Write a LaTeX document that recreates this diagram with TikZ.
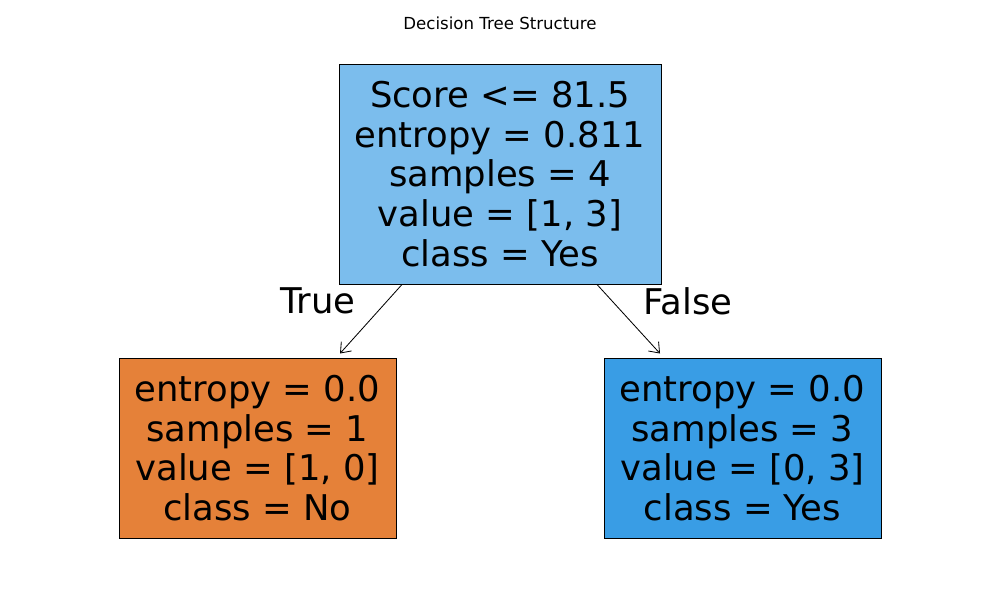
\documentclass[tikz,border=0pt]{standalone}
\usepackage{fontspec}
\setmainfont{DejaVu Sans}
\usepackage{tikz}
\usetikzlibrary{arrows.meta,calc}
\definecolor{myrootcolor}{HTML}{7BBDED}
\definecolor{myleftcolor}{HTML}{E58139}
\definecolor{myrightcolor}{HTML}{399DE5}

\begin{document}
\begin{tikzpicture}[x=0.254mm, y=0.254mm,
  treebox/.style={draw, rectangle, line width=0.7pt, align=center, inner sep=0pt, font=\fontsize{25.6pt}{28.6pt}\selectfont},
  edgelabel/.style={font=\fontsize{25.6pt}{28.6pt}\selectfont},
  treearrow/.style={-{Straight Barb[length=6.5pt, width=10pt]}, line width=0.6pt}]%
\useasboundingbox (0, 0) rectangle (1000, 600);%
\node (title) at (500, 577) {\fontsize{12pt}{14pt}\selectfont Decision Tree Structure};%
\node[treebox, fill=myrootcolor, minimum width=81.79mm, minimum height=55.88mm] (root) at (500, 426) {Score <= 81.5\\entropy = 0.811\\samples = 4\\value = [1, 3]\\class = Yes};%
\node[treebox, fill=myleftcolor, minimum width=70.36mm, minimum height=45.72mm] (left) at (257.5, 152) {entropy = 0.0\\samples = 1\\value = [1, 0]\\class = No};%
\node[treebox, fill=myrightcolor, minimum width=70.36mm, minimum height=45.72mm] (right) at (742.5, 152) {entropy = 0.0\\samples = 3\\value = [0, 3]\\class = Yes};%
\coordinate (lefttip) at ($(left.north)+(82.5, 4)$);%
\coordinate (righttip) at ($(right.north)+(-82.5, 4)$);%
\draw[treearrow] ($(root.south)+(-98, 0)$) -- (lefttip);%
\draw[treearrow] ($(root.south)+(97, 0)$) -- (righttip);%
\node[edgelabel] (truelabel) at (318, 299) {True};%
\node[edgelabel] (falselabel) at (688, 299) {False};%
\end{tikzpicture}
\end{document}
